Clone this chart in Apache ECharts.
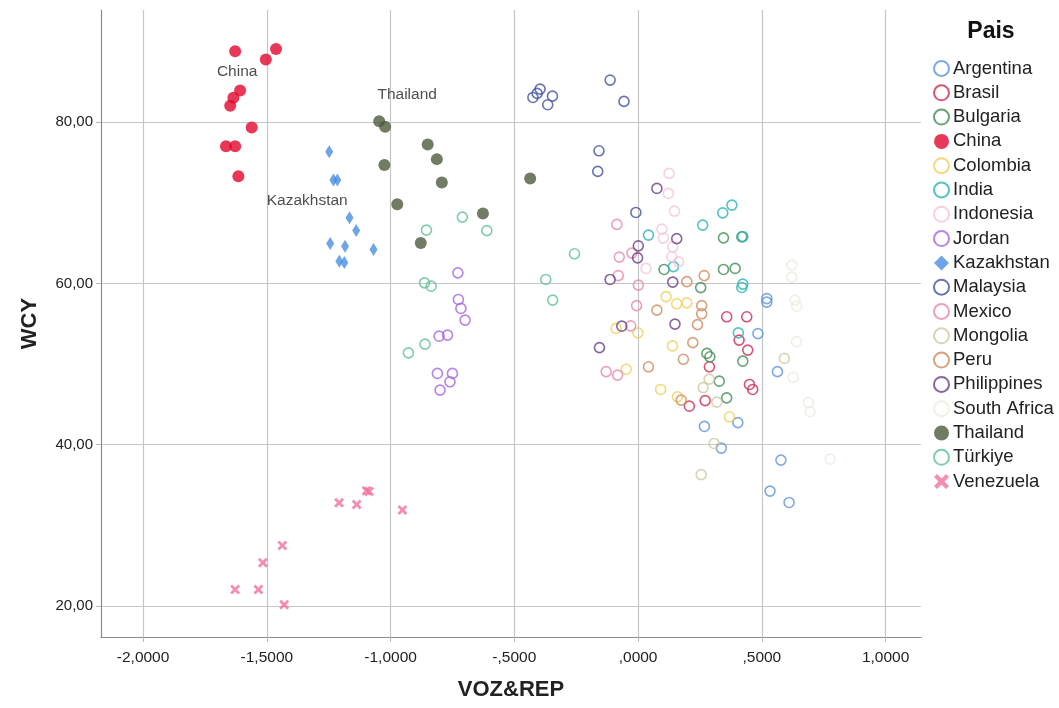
<!DOCTYPE html>
<html>
<head>
<meta charset="utf-8">
<script src="https://cdn.jsdelivr.net/npm/echarts@6/dist/echarts.min.js"></script>
<style>
  html, body { margin: 0; padding: 0; background: #fff; }
  #chart { width: 1059px; height: 708px; }
</style>
</head>
<body>
<div id="chart"></div>
<script>
// VOZ&REP (x) vs WCY (y), one series per country
const countries = ['Argentina','Brasil','Bulgaria','China','Colombia','India','Indonesia','Jordan','Kazakhstan','Malaysia','Mexico','Mongolia','Peru','Philippines','South Africa','Thailand','Türkiye','Venezuela'];

const argentina = [[0.520,58.12],[0.520,57.68],[0.484,53.78],[0.563,49.06],[0.268,42.27],[0.403,42.74],[0.336,39.58],[0.577,38.09],[0.533,34.25],[0.610,32.84]];
const brasil = [[0.358,55.86],[0.439,55.86],[0.408,52.97],[0.443,51.73],[0.288,49.66],[0.450,47.47],[0.463,46.85],[0.271,45.47],[0.207,44.78]];
const bulgaria = [[0.105,61.73],[0.253,59.48],[0.345,65.65],[0.419,65.78],[0.345,61.73],[0.392,61.86],[0.278,51.32],[0.423,50.36],[0.328,47.88],[0.358,45.81],[0.290,50.90]];
const china = [[-1.628,88.80],[-1.504,87.77],[-1.463,89.05],[-1.608,83.93],[-1.635,83.01],[-1.648,82.02],[-1.561,79.34],[-1.665,77.02],[-1.628,77.02],[-1.615,73.30]];
const colombia = [[0.113,58.36],[0.156,57.47],[0.197,57.59],[-0.089,54.42],[-0.001,53.87],[0.139,52.25],[-0.048,49.35],[0.091,46.85],[0.159,45.94],[0.369,43.46]];
const india = [[0.379,69.71],[0.342,68.75],[0.261,67.23],[0.042,65.99],[0.423,65.80],[0.143,62.08],[0.423,59.91],[0.419,59.50],[0.405,53.87]];
const indonesia = [[0.125,73.64],[0.122,71.16],[0.147,68.96],[0.096,66.73],[0.102,65.62],[0.140,64.54],[0.136,63.30],[0.163,62.68],[0.032,61.86]];
const jordan = [[-0.728,61.31],[-0.726,58.01],[-0.716,56.90],[-0.699,55.45],[-0.804,53.46],[-0.770,53.59],[-0.811,48.84],[-0.750,48.84],[-0.760,47.80],[-0.800,46.77]];
const kazakhstan = [[-1.248,76.32],[-1.231,72.81],[-1.215,72.81],[-1.166,68.13],[-1.139,66.57],[-1.244,64.96],[-1.184,64.62],[-1.069,64.21],[-1.207,62.76],[-1.187,62.60]];
const malaysia = [[-0.396,84.09],[-0.408,83.56],[-0.425,83.06],[-0.346,83.22],[-0.365,82.15],[-0.113,85.21],[-0.057,82.57],[-0.158,76.44],[-0.163,73.89],[-0.009,68.80]];
const mexico = [[-0.086,67.32],[-0.025,63.76],[-0.076,63.26],[-0.080,60.97],[0.001,59.79],[-0.006,57.25],[-0.030,54.74],[-0.129,49.06],[-0.083,48.63]];
const mongolia = [[0.591,50.70],[0.287,48.13],[0.263,47.08],[0.318,45.28],[0.307,40.16],[0.255,36.29]];
const peru = [[0.197,60.22],[0.267,60.97],[0.257,57.25],[0.257,56.23],[0.076,56.69],[0.240,54.89],[0.221,52.66],[0.183,50.59],[0.042,49.66],[0.174,45.53]];
const philippines = [[0.076,71.78],[0.156,65.55],[0.001,64.66],[-0.002,63.17],[-0.113,60.49],[0.140,60.16],[0.149,54.95],[-0.066,54.70],[-0.156,52.04]];
const southAfrica = [[0.621,62.27],[0.621,60.78],[0.634,57.93],[0.641,57.18],[0.640,52.78],[0.627,48.34],[0.688,45.22],[0.695,44.10],[0.776,38.21]];
const thailand = [[-1.046,80.12],[-1.022,79.42],[-0.850,77.23],[-0.813,75.41],[-1.025,74.67],[-0.793,72.52],[-0.973,69.83],[-0.436,73.02],[-0.627,68.68],[-0.878,65.00]];
const turkiye = [[-0.710,68.22],[-0.855,66.61],[-0.611,66.55],[-0.257,63.67],[-0.863,60.07],[-0.836,59.66],[-0.373,60.49],[-0.345,57.93],[-0.861,52.47],[-0.928,51.39]];
const venezuela = [[-1.628,22.06],[-1.534,22.06],[-1.516,25.36],[-1.437,27.50],[-1.430,20.15],[-1.208,32.80],[-1.137,32.60],[-1.097,34.30],[-1.087,34.20],[-0.952,31.90]];

const seriesValues = [argentina, brasil, bulgaria, china, colombia, india, indonesia, jordan, kazakhstan, malaysia, mexico, mongolia, peru, philippines, southAfrica, thailand, turkiye, venezuela];

const colors = ['#5f93dc','#cf2a52','#3f8c55','#e3062d','#f0cf5a','#2db3b3','#f6c6d8','#a665e2','#4a8fe0','#43519f','#e888ac','#cfc9a0','#d08a5c','#6a3f86','#ecece0','#4f5a3c','#5fc295','#f2709e'];

// group labels placed in data space
const groupLabels = [
  { name: 'China', value: [-1.620, 86.2] },
  { name: 'Thailand', value: [-0.933, 83.35] },
  { name: 'Kazakhstan', value: [-1.337, 70.2] }
];

const xTicks = [-2, -1.5, -1, -0.5, 0, 0.5, 1];
const yTicks = [20, 40, 60, 80];

function fmtX(v) {
  const s = Math.abs(v).toFixed(4).replace('.', ',');
  const t = s.startsWith('0,') ? s.slice(1) : s;
  return (v < 0 ? '-' : '') + t;
}
function fmtY(v) { return v.toFixed(2).replace('.', ','); }

const filled = new Set(['China','Thailand']);
const font = 'Liberation Sans, Arial, sans-serif';

const series = countries.map((name, i) => {
  const c = colors[i];
  const s = { type: 'scatter', name, data: seriesValues[i], z: 2 };
  if (name === 'Kazakhstan') {
    s.symbol = 'diamond';
    s.symbolSize = [8, 13];
    s.itemStyle = { color: c };
  } else if (name === 'Venezuela') {
    s.symbol = 'path://M2,0 L5,3 L8,0 L10,2 L7,5 L10,8 L8,10 L5,7 L2,10 L0,8 L3,5 L0,2 Z';
    s.symbolSize = 10;
    s.itemStyle = { color: c };
  } else if (filled.has(name)) {
    s.symbol = 'circle';
    s.symbolSize = 12;
    s.itemStyle = { color: c };
    s.z = 3;
  } else {
    s.symbol = 'circle';
    s.symbolSize = 10;
    s.itemStyle = { color: 'rgba(255,255,255,0)', borderColor: c, borderWidth: 1.6 };
  }
  return s;
});

series.push({
  type: 'scatter',
  name: 'labels',
  data: groupLabels,
  symbolSize: 0,
  silent: true,
  z: 4,
  label: {
    show: true, position: 'inside', formatter: p => p.name,
    color: '#222', fontSize: 15.5, fontFamily: font
  }
});

const chart = echarts.init(document.getElementById('chart'), null, { renderer: 'canvas' });
chart.setOption({
  animation: false,
  backgroundColor: '#fff',
  color: colors,
  grid: { left: 101, right: 138, top: 10, bottom: 71 },
  xAxis: {
    type: 'value', min: -2.17, max: 1.143,
    name: 'VOZ&REP', nameLocation: 'middle', nameGap: 42,
    nameTextStyle: { fontSize: 22, fontWeight: 'bold', color: '#222', fontFamily: font },
    axisLine: { show: true, onZero: false, lineStyle: { color: '#8c8c8c', width: 1.2 } },
    axisTick: { show: true, length: 5, customValues: xTicks, lineStyle: { color: '#b8b8b8' } },
    axisLabel: { customValues: xTicks, formatter: fmtX, color: '#222', fontSize: 15.5, margin: 13, fontFamily: font },
    splitLine: { show: true, lineStyle: { color: '#c6c6c6', width: 1.2 } }
  },
  yAxis: {
    type: 'value', min: 16.16, max: 93.9,
    name: 'WCY', nameLocation: 'middle', nameGap: 60, nameRotate: 90,
    nameTextStyle: { fontSize: 22, fontWeight: 'bold', color: '#222', fontFamily: font },
    axisLine: { show: true, onZero: false, lineStyle: { color: '#8c8c8c', width: 1.2 } },
    axisTick: { show: true, length: 5, customValues: yTicks, lineStyle: { color: '#b8b8b8' } },
    axisLabel: { customValues: yTicks, formatter: fmtY, color: '#222', fontSize: 15, margin: 8, fontFamily: font },
    splitLine: { show: true, lineStyle: { color: '#c6c6c6', width: 1.2 } }
  },
  legend: {
    data: countries,
    orient: 'vertical',
    left: 928, top: 54,
    itemWidth: 15, itemHeight: 15, itemGap: 5.3,
    textStyle: { fontSize: 18.5, color: '#222', fontFamily: font, padding: [0, 0, 0, -1] },
    selectedMode: false
  },
  graphic: [{
    type: 'text', x: 991, y: 32,
    style: { text: 'Pais', fontSize: 23, fontWeight: 'bold', fill: '#111', fontFamily: font, align: 'center', verticalAlign: 'middle' }
  }],
  series
});
</script>
</body>
</html>
